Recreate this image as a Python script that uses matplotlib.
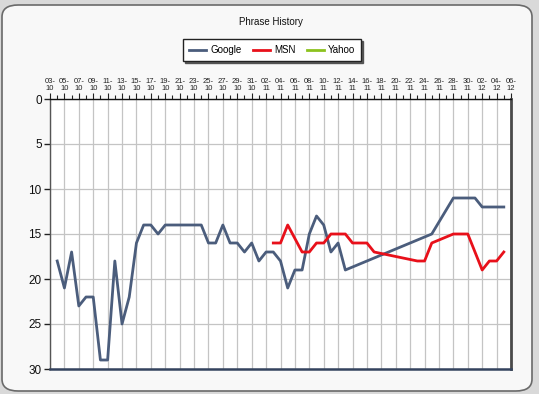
import matplotlib
matplotlib.use("Agg")
import matplotlib.pyplot as plt
from matplotlib.patches import FancyBboxPatch
from matplotlib.ticker import MultipleLocator
import pandas as pd

plt.rcParams['font.family'] = ['Liberation Sans', 'DejaVu Sans']

title = "Phrase History"
series_names = ["Google", "MSN", "Yahoo"]

google_dates = [
    "2010-10-04", "2010-10-05", "2010-10-06", "2010-10-07", "2010-10-08",
    "2010-10-09", "2010-10-10", "2010-10-11", "2010-10-12", "2010-10-13",
    "2010-10-14", "2010-10-15", "2010-10-16", "2010-10-17", "2010-10-18",
    "2010-10-19", "2010-10-20", "2010-10-21", "2010-10-22", "2010-10-23",
    "2010-10-24", "2010-10-25", "2010-10-26", "2010-10-27", "2010-10-28",
    "2010-10-29", "2010-10-30", "2010-10-31", "2010-11-01", "2010-11-02",
    "2010-11-03", "2010-11-04", "2010-11-05", "2010-11-06", "2010-11-07",
    "2010-11-08", "2010-11-09", "2010-11-10", "2010-11-11", "2010-11-12",
    "2010-11-13", "2010-11-25", "2010-11-28", "2010-11-29", "2010-11-30",
    "2010-12-01", "2010-12-02", "2010-12-03", "2010-12-04", "2010-12-05",
]
google_rank = [
    18, 21, 17, 23, 22, 22, 29, 29, 18, 25,
    22, 16, 14, 14, 15, 14, 14, 14, 14, 14,
    14, 16, 16, 14, 16, 16, 17, 16, 18, 17,
    17, 18, 21, 19, 19, 15, 13, 14, 17, 16,
    19, 15, 11, 11, 11, 11, 12, 12, 12, 12,
]

msn_dates = [
    "2010-11-03", "2010-11-04", "2010-11-05", "2010-11-07", "2010-11-08",
    "2010-11-09", "2010-11-10", "2010-11-11", "2010-11-12", "2010-11-13",
    "2010-11-14", "2010-11-15", "2010-11-16", "2010-11-17", "2010-11-23",
    "2010-11-24", "2010-11-25", "2010-11-28", "2010-11-29", "2010-11-30",
    "2010-12-02", "2010-12-03", "2010-12-04", "2010-12-05",
]
msn_rank = [
    16, 16, 14, 17, 17, 16, 16, 15, 15, 15,
    16, 16, 16, 17, 18, 18, 16, 15, 15, 15,
    19, 18, 18, 17,
]

yahoo_dates = []
yahoo_rank = []

axis_start = "2010-10-03"
axis_end = "2010-12-06"

colors = {"Google": "#4b5d7c", "MSN": "#e8101a", "Yahoo": "#8cc21e"}

W, H = 539, 394
fig = plt.figure(figsize=(W / 100, H / 100), dpi=100)
fig.patch.set_facecolor("#d9d9d9")

frame = FancyBboxPatch((2 / W, 3 / H), 530 / W, 386 / H,
                       boxstyle="round,pad=0,rounding_size=0.03",
                       transform=fig.transFigure, facecolor="#f8f8f8",
                       edgecolor="#6a6a6a", linewidth=1.2, zorder=-5)
fig.patches.append(frame)

ax = fig.add_axes([50 / W, 1 - 369 / H, 461 / W, 270 / H])
ax.set_zorder(2)
ax.set_facecolor("white")

gd = pd.to_datetime(google_dates)
md = pd.to_datetime(msn_dates)
yd = pd.to_datetime(yahoo_dates)

ax.plot(gd, google_rank, color=colors["Google"], lw=2.0, label="Google", zorder=3)
ax.plot(md, msn_rank, color=colors["MSN"], lw=2.0, label="MSN", zorder=3)
ax.plot(yd, yahoo_rank, color=colors["Yahoo"], lw=2.0, label="Yahoo", zorder=3)

ax.set_xlim(pd.Timestamp(axis_start), pd.Timestamp(axis_end))
ax.set_ylim(30, 0)
ax.yaxis.set_major_locator(MultipleLocator(5))

ticks = pd.date_range(axis_start, axis_end, freq="2D")
ax.set_xticks(ticks)
ax.set_xticklabels([t.strftime("%d-\n%m") for t in ticks])
ax.set_xticks(pd.date_range(axis_start, axis_end, freq="1D"), minor=True)

ax.xaxis.tick_top()
ax.tick_params(axis="x", which="major", labelsize=5.5, length=4, width=0.8,
               color="#222222", pad=1, labelcolor="#222222")
ax.tick_params(axis="x", which="minor", length=3, width=0.8, color="#222222")
ax.tick_params(axis="y", which="major", labelsize=8.5, length=4, width=1,
               color="#222222", pad=2, labelcolor="#111111")
for lab in ax.get_xticklabels():
    lab.set_linespacing(1.0)

ax.grid(True, axis="x", which="major", color="#c4c4c4", lw=0.9, zorder=1)
ax.grid(True, axis="y", which="major", color="#c4c4c4", lw=0.9, zorder=1)

ax.spines["top"].set_color("#111111")
ax.spines["top"].set_linewidth(1.0)
ax.spines["left"].set_color("#555555")
ax.spines["left"].set_linewidth(1.0)
ax.spines["bottom"].set_color("#34435e")
ax.spines["bottom"].set_linewidth(1.8)
ax.spines["right"].set_color("#4a4a4a")
ax.spines["right"].set_linewidth(2.0)

fig.text(271 / W, 1 - 22 / H, title, ha="center", va="center", fontsize=7,
         color="#111111")

leg = fig.legend(loc="center", bbox_to_anchor=(272 / W, 1 - 50 / H), ncol=3,
                 fontsize=7, frameon=True, fancybox=False,
                 shadow={"color": "#444444", "alpha": 0.85, "ox": 1.5, "oy": -1.5},
                 edgecolor="#222222", handlelength=1.75, columnspacing=1.15,
                 handletextpad=0.45, borderpad=0.6, borderaxespad=0)
leg.get_frame().set_linewidth(1.0)
leg.get_frame().set_facecolor("white")

fig.savefig("out.png", dpi=100, facecolor=fig.get_facecolor())
